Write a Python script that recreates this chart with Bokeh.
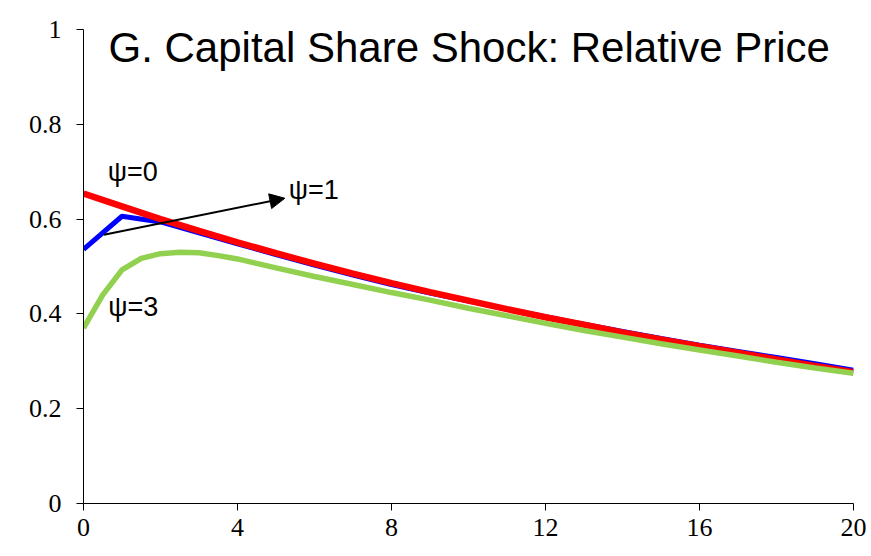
from bokeh.plotting import figure
from bokeh.models import Range1d, Label, Arrow, NormalHead, FixedTicker
from bokeh.embed import file_html
from bokeh.resources import INLINE

# ---- data ----
t_int = [0, 1, 2, 3, 4, 5, 6, 7, 8, 9, 10, 11, 12, 13, 14, 15, 16, 17, 18, 19, 20]
psi0 = [0.654, 0.627, 0.600, 0.575, 0.551, 0.528, 0.506, 0.485, 0.465, 0.446, 0.428,
        0.410, 0.393, 0.377, 0.361, 0.346, 0.332, 0.318, 0.304, 0.290, 0.277]
psi1 = [0.536, 0.606, 0.594, 0.571, 0.548, 0.525, 0.503, 0.482, 0.462, 0.444, 0.427,
        0.410, 0.394, 0.378, 0.363, 0.348, 0.334, 0.321, 0.308, 0.295, 0.281]
t_green = [0, 0.5, 1, 1.5, 2, 2.5, 3, 3.5, 4, 5, 6, 7, 8, 9, 10, 11, 12, 13, 14, 15,
           16, 17, 18, 19, 20]
psi3 = [0.370, 0.440, 0.493, 0.517, 0.527, 0.530, 0.529, 0.523, 0.516, 0.497, 0.479,
        0.462, 0.445, 0.429, 0.412, 0.396, 0.380, 0.365, 0.351, 0.337, 0.324, 0.311,
        0.298, 0.286, 0.275]
x_ticks = [0, 4, 8, 12, 16, 20]
y_ticks = [0, 0.2, 0.4, 0.6, 0.8, 1]
title_text = "G. Capital Share Shock: Relative Price"

p = figure(width=866, height=550, output_backend="svg", toolbar_location=None,
           x_range=Range1d(0, 20), y_range=Range1d(0, 1),
           min_border_left=83, min_border_right=13, min_border_top=29, min_border_bottom=47)
p.outline_line_color = None
p.xgrid.visible = False
p.ygrid.visible = False
p.background_fill_color = "white"
p.border_fill_color = "white"

for ax, ticks in ((p.xaxis, x_ticks), (p.yaxis, y_ticks)):
    ax.ticker = FixedTicker(ticks=ticks)
    ax.axis_line_color = "black"
    ax.axis_line_width = 1
    ax.major_tick_line_color = "black"
    ax.major_tick_in = 0
    ax.major_tick_out = 7
    ax.minor_tick_line_color = None
    ax.major_label_text_font = "Liberation Serif"
    ax.major_label_text_font_size = "26px"
    ax.major_label_text_color = "black"
p.yaxis.major_label_standoff = 15
p.xaxis.major_label_standoff = 8
p.yaxis.major_label_overrides = {0: "0", 0.2: "0.2", 0.4: "0.4", 0.6: "0.6", 0.8: "0.8", 1: "1"}

p.line(t_int, psi1, line_color="#0000FF", line_width=5)
p.line(t_int, psi0, line_color="#FF0000", line_width=6.5)
p.line(t_green, psi3, line_color="#92D050", line_width=5.5)

p.add_layout(Arrow(end=NormalHead(size=15, fill_color="black", line_color="black"),
                   x_start=0.53, y_start=0.567, x_end=5.23, y_end=0.644,
                   line_color="black", line_width=2))

def lab(x, y, txt, size):
    p.add_layout(Label(x=x, y=y, text=txt, text_font="Liberation Sans",
                       text_font_size=size, text_color="black",
                       text_baseline="alphabetic", text_align="left"))

lab(0.65, 0.962, title_text, "42px")
lab(0.63, 0.699, "ψ=0", "27px")
lab(5.33, 0.662, "ψ=1", "27px")
lab(0.64, 0.415, "ψ=3", "27px")

open("out.html", "w").write(file_html(p, INLINE))
